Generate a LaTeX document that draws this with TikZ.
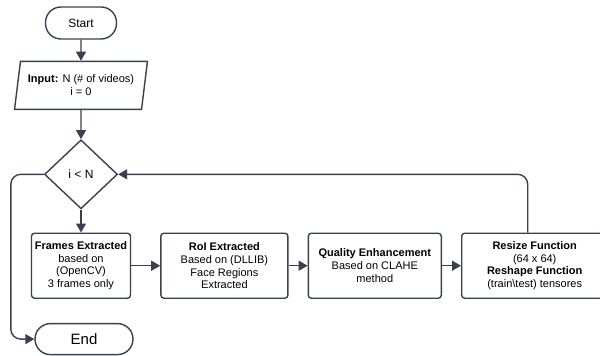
\documentclass[tikz,border=0pt]{standalone}
\usepackage{fontspec}
\setmainfont{Liberation Sans}
\usetikzlibrary{shapes.geometric, arrows.meta, positioning}
\definecolor{lineclr}{RGB}{58,65,78}

\begin{document}
\begin{tikzpicture}[
node distance=20pt and 20pt,
font=\fontsize{11}{12.8}\selectfont,
% Define block styles
terminal/.style = {rectangle, rounded corners=15.5pt, minimum width=71pt, minimum height=32pt, inner sep=0pt, text centered, draw=lineclr, line width=1.4pt},
io/.style = {trapezium, trapezium left angle=76, trapezium right angle=104, trapezium stretches=true, minimum width=133pt, minimum height=48pt, inner sep=0pt, align=center, draw=lineclr, line width=1.4pt},
decision/.style = {diamond, aspect=1.06, minimum width=73pt, minimum height=69pt, inner sep=0pt, text centered, draw=lineclr, line width=1.4pt},
process/.style = {rectangle, rounded corners=3pt, minimum height=65pt, inner sep=0pt, align=center, draw=lineclr, line width=1.4pt},
arrow/.style = {line width=1.4pt, draw=lineclr, -{Triangle[length=9pt,width=10pt]}}
]
\useasboundingbox (0,0) rectangle (600pt,-356pt);
\clip (0,0) rectangle (600pt,-356pt);

% Nodes
\node (start) [terminal, font=\fontsize{12}{14}\selectfont] at (81pt,-23pt) {Start};
\node (input) [io, below=21pt of start] {\textbf{Input:} N (\# of videos)\\ i = 0};
\node (check) [decision, below=29pt of input, font=\fontsize{12}{14}\selectfont] {i < N};

% Processing steps
\node (frames) [process, minimum width=99pt, below=23pt of check] {\textbf{Frames Extracted}\\ based on\\ (OpenCV)\\ 3 frames only};
\node (roi) [process, minimum width=127pt, right=29pt of frames] {\textbf{RoI Extracted}\\ Based on (DLLIB)\\ Face Regions\\ Extracted};
\node (quality) [process, minimum width=133pt, right=19pt of roi] {\textbf{Quality Enhancement}\\ Based on CLAHE\\ method};
\node (resize) [process, minimum width=146pt, right=19pt of quality] {\textbf{Resize Function}\\ (64 x 64)\\ \textbf{Reshape Function}\\ (train\textbackslash test) tensores};

% End
\node (end) [terminal, minimum width=98pt, minimum height=31pt, below=24pt of frames, xshift=3pt, font=\fontsize{15}{17}\selectfont] {End};

% Arrows
\draw [arrow] (start) -- (input);
\draw [arrow] (input) -- (check);
\draw [arrow] (check) -- (frames);
\draw [arrow] (frames) -- (roi);
\draw [arrow] (roi) -- (quality);
\draw [arrow] (quality) -- (resize);
\draw [arrow, rounded corners=10pt] ([xshift=-7pt]resize.north) |- (check.east);
\draw [arrow, rounded corners=10pt] (check.west) -- ++(-33pt,0) |- (end.west);
\end{tikzpicture}
\end{document}
